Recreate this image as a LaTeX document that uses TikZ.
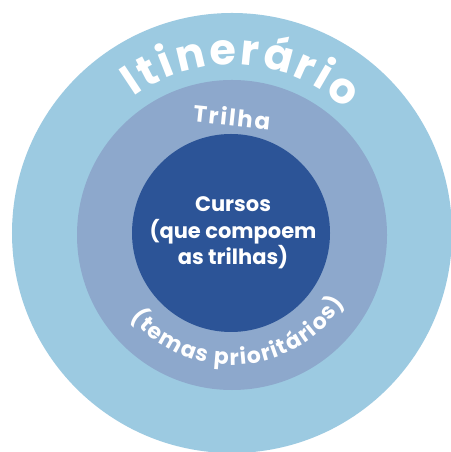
\documentclass[tikz,border=0pt]{standalone}
\usepackage{fontspec}
\newfontfamily\popB[LetterSpace=8]{Poppins}
\newfontfamily\pop{Poppins}
\definecolor{outerc}{RGB}{156,202,225}
\definecolor{midc}{RGB}{141,168,204}
\definecolor{innerc}{RGB}{44,84,151}
\tikzset{
  ring/.style={circle, inner sep=0pt, draw=none},
  lbl/.style={text=white, font=\pop\bfseries},
  letter/.style={text=white, inner sep=0pt, anchor=base},
}
\newdimen\totw \newdimen\cumw \newdimen\chw \newcount\arcn
\newif\ifarcmeasure
\newbox\mybox
\newcommand\arcletter[1]{%
  \global\advance\arcn by 1\relax
  \ifarcmeasure
    \setbox\mybox\hbox{\arcfont #1}%
    \chw=\wd\mybox
    \expandafter\xdef\csname\arcname-w\the\arcn\endcsname{\the\chw}%
    \global\advance\totw by \chw
    \global\advance\totw by \arcsp\relax
  \else
    \chw=\csname\arcname-w\the\arcn\endcsname\relax
    \totw=\csname\arcname-tot\endcsname\relax
    \dimen0=\dimexpr\cumw+\chw/2+\arcsp/2-\totw/2\relax
    \pgfmathsetmacro\myoff{\the\dimen0}%
    \pgfmathsetmacro\myang{\arcc+(\arcdir)*(\myoff)/(\arcr*1.00375)*57.29578}%
    \pgfmathsetmacro\myrot{\myang+(\arcdir)*90}%
    \path (c) ++(\myang:\arcr) node[letter, rotate=\myrot] (\arcname-\the\arcn) {\arcfont #1};%
    \global\advance\cumw by \chw
    \global\advance\cumw by \arcsp\relax
  \fi}
% measure: #1 name, #2 font, #3 spacing, #4 letters
\newcommand\arcmeasure[4]{%
  \def\arcname{#1}\def\arcfont{#2}\def\arcsp{#3}%
  \global\arcn=0\relax \global\totw=0pt\relax
  \arcmeasuretrue #4%
  \expandafter\xdef\csname #1-tot\endcsname{\the\totw}}
% place: #1 name, #2 font, #3 spacing, #4 radius, #5 centre angle, #6 direction, #7 letters
\newcommand\arcplace[7]{%
  \def\arcname{#1}\def\arcfont{#2}\def\arcsp{#3}\def\arcr{#4}\def\arcc{#5}\def\arcdir{#6}%
  \global\arcn=0\relax \global\cumw=0pt\relax
  \arcmeasurefalse #7}
\def\itinfont{\pop\bfseries\fontsize{43bp}{50bp}\selectfont}
\def\temfont{\pop\bfseries\fontsize{22bp}{26bp}\selectfont}
\def\itinletters{\arcletter{I}\arcletter{t}\arcletter{i}\arcletter{n}\arcletter{e}\arcletter{r}\arcletter{á}\arcletter{r}\arcletter{i}\arcletter{o}}
\def\temletters{\arcletter{(}\arcletter{t}\arcletter{e}\arcletter{m}\arcletter{a}\arcletter{s}\arcletter{~}\arcletter{p}\arcletter{r}\arcletter{i}\arcletter{o}\arcletter{r}\arcletter{i}\arcletter{t}\arcletter{á}\arcletter{r}\arcletter{i}\arcletter{o}\arcletter{s}\arcletter{)}}
\begin{document}%
\arcmeasure{itin}{\itinfont}{2.9bp}{\itinletters}%
\arcmeasure{temas}{\temfont}{1.3bp}{\temletters}%
\begin{tikzpicture}[x=1bp,y=1bp]
\useasboundingbox (0,0) rectangle (451,452);
\fill[white] (0,0) rectangle (451,452);
\begin{scope}
\clip (0,0) rectangle (451,452);
\node[ring, fill=outerc, minimum size=440bp] (outer) at (232,219) {};
\node[ring, fill=midc, minimum size=310bp] (middle) at (232,217) {};
\node[ring, fill=innerc, minimum size=198bp] (inner) at (231,219) {};
\end{scope}
\coordinate (c) at (232,219);
\arcplace{itin}{\itinfont}{2.9bp}{168}{86.5}{-1}{\itinletters}
\arcplace{temas}{\temfont}{1.3bp}{132}{274}{1}{\temletters}
\node[text=white, anchor=base, rotate=-6, font=\popB\bfseries\fontsize{23bp}{27bp}\selectfont] (trilha) at (231,326) {Trilha};
\node[lbl, align=center, font=\pop\bfseries\fontsize{21bp}{26.5bp}\selectfont] (cursos) at (233,219) {Cursos\\(que compoem\\as trilhas)};
\end{tikzpicture}
\end{document}
